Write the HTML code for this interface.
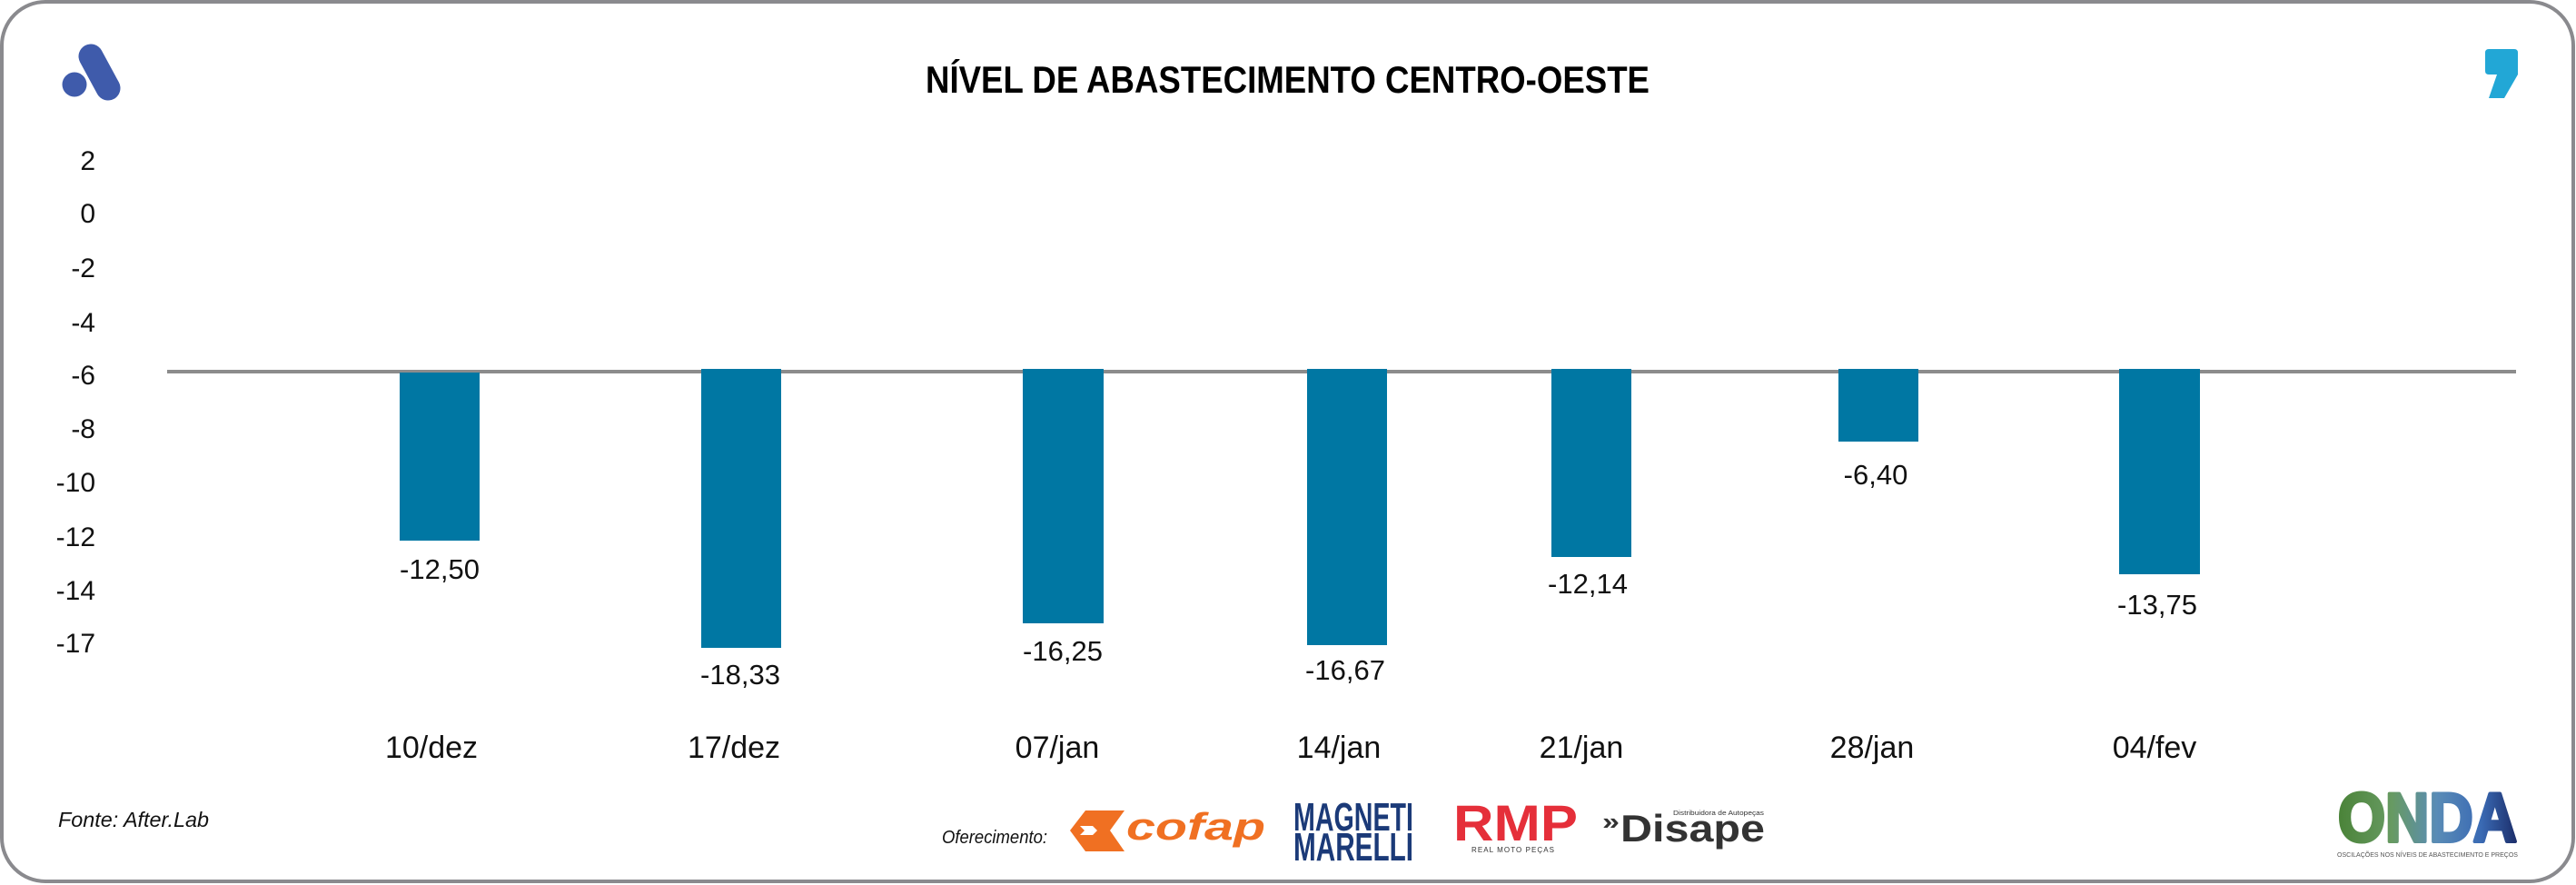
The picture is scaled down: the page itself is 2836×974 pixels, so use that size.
<!DOCTYPE html>
<html>
<head>
<meta charset="utf-8">
<style>
  html, body { margin: 0; padding: 0; background: #ffffff; }
  svg { display: block; }
  text { font-family: "Liberation Sans", "DejaVu Sans", sans-serif; }
</style>
</head>
<body>
<svg width="2836" height="974" viewBox="0 0 2836 974" xmlns="http://www.w3.org/2000/svg">
  <defs>
    <linearGradient id="onda" x1="0" y1="0" x2="1" y2="0">
      <stop offset="0" stop-color="#4a8338"/>
      <stop offset="0.3" stop-color="#679a62"/>
      <stop offset="0.55" stop-color="#5a8cb6"/>
      <stop offset="0.8" stop-color="#3a6ab4"/>
      <stop offset="1" stop-color="#1c2e6a"/>
    </linearGradient>
  </defs>

  <!-- card border -->
  <rect x="2" y="2" width="2831" height="968" rx="48" ry="48" fill="#ffffff" stroke="#8a8a8e" stroke-width="4"/>

  <!-- top-left logo -->
  <circle cx="82" cy="93" r="13.5" fill="#3f5bab"/>
  <line x1="100" y1="62" x2="119" y2="97" stroke="#3f5bab" stroke-width="27" stroke-linecap="round"/>

  <!-- top-right comma logo -->
  <path d="M2740,54 H2768 Q2772,54 2772,58 V82 L2757,108 H2740 L2749,82 H2740 Q2736,82 2736,78 V58 Q2736,54 2740,54 Z" fill="#22a7d6"/>

  <!-- title -->
  <text x="1019" y="102" font-size="42" font-weight="bold" fill="#000" textLength="797" lengthAdjust="spacingAndGlyphs">NÍVEL DE ABASTECIMENTO CENTRO-OESTE</text>

  <!-- y axis labels -->
  <g font-size="30" fill="#111" text-anchor="end">
    <text x="105" y="187">2</text>
    <text x="105" y="245">0</text>
    <text x="105" y="305">-2</text>
    <text x="105" y="365">-4</text>
    <text x="105" y="423">-6</text>
    <text x="105" y="482">-8</text>
    <text x="105" y="541">-10</text>
    <text x="105" y="601">-12</text>
    <text x="105" y="660">-14</text>
    <text x="105" y="718">-17</text>
  </g>

  <!-- baseline -->
  <line x1="184" y1="409" x2="2770" y2="409" stroke="#8c8c8c" stroke-width="4"/>

  <!-- bars -->
  <g fill="#0077a3">
    <rect x="440" y="410" width="88" height="185"/>
    <rect x="772" y="406" width="88" height="307"/>
    <rect x="1126" y="406" width="89" height="280"/>
    <rect x="1439" y="406" width="88" height="304"/>
    <rect x="1708" y="406" width="88" height="207"/>
    <rect x="2024" y="406" width="88" height="80"/>
    <rect x="2333" y="406" width="89" height="226"/>
  </g>

  <!-- value labels -->
  <g font-size="31" fill="#111" text-anchor="middle">
    <text x="484" y="637">-12,50</text>
    <text x="815" y="753">-18,33</text>
    <text x="1170" y="727">-16,25</text>
    <text x="1481" y="748">-16,67</text>
    <text x="1748" y="653">-12,14</text>
    <text x="2065" y="533">-6,40</text>
    <text x="2375" y="676">-13,75</text>
  </g>

  <!-- x labels -->
  <g font-size="34" fill="#111" text-anchor="middle">
    <text x="475" y="834">10/dez</text>
    <text x="808" y="834">17/dez</text>
    <text x="1164" y="834">07/jan</text>
    <text x="1474" y="834">14/jan</text>
    <text x="1741" y="834">21/jan</text>
    <text x="2061" y="834">28/jan</text>
    <text x="2372" y="834">04/fev</text>
  </g>

  <!-- source -->
  <text x="64" y="910" font-size="23" font-style="italic" fill="#111" textLength="166" lengthAdjust="spacingAndGlyphs">Fonte: After.Lab</text>

  <!-- sponsors -->
  <text x="1037" y="928" font-size="20" font-style="italic" fill="#111" textLength="116" lengthAdjust="spacingAndGlyphs">Oferecimento:</text>

  <!-- cofap -->
  <polygon points="1195,892 1238,892 1222,914 1238,937 1195,937 1178,914" fill="#f07022"/>
  <polygon points="1189,909 1203,909 1208,914 1203,919 1189,919 1194,914" fill="#ffffff"/>
  <text x="1240" y="924" font-size="42" font-weight="bold" font-style="italic" fill="#f07022" textLength="153" lengthAdjust="spacingAndGlyphs">cofap</text>

  <!-- Magneti Marelli -->
  <text x="1424" y="914" font-size="44" font-weight="bold" fill="#1b3a78" textLength="132" lengthAdjust="spacingAndGlyphs">MAGNETI</text>
  <text x="1424" y="947" font-size="44" font-weight="bold" fill="#1b3a78" textLength="132" lengthAdjust="spacingAndGlyphs">MARELLI</text>

  <!-- RMP -->
  <text x="1600" y="925" font-size="56" font-weight="bold" fill="#e52f3a" textLength="137" lengthAdjust="spacingAndGlyphs">RMP</text>
  <text x="1620" y="938" font-size="8" fill="#333" textLength="91" lengthAdjust="spacing">REAL MOTO PEÇAS</text>

  <!-- Disape -->
  <text x="1764" y="913" font-size="26" font-weight="bold" fill="#333" textLength="19" lengthAdjust="spacingAndGlyphs">»</text>
  <text x="1784" y="926" font-size="42" font-weight="bold" fill="#333" textLength="159" lengthAdjust="spacingAndGlyphs">Disape</text>
  <text x="1842" y="897" font-size="7" fill="#333" textLength="100" lengthAdjust="spacingAndGlyphs">Distribuidora de Autopeças</text>

  <!-- ONDA -->
  <text x="2574" y="926" font-size="76" font-weight="bold" fill="url(#onda)" stroke="url(#onda)" stroke-width="4" stroke-linejoin="round" textLength="197" lengthAdjust="spacingAndGlyphs">ONDA</text>
  <text x="2573" y="943" font-size="7" fill="#555" textLength="199" lengthAdjust="spacingAndGlyphs">OSCILAÇÕES NOS NÍVEIS DE ABASTECIMENTO E PREÇOS</text>
</svg>
</body>
</html>
